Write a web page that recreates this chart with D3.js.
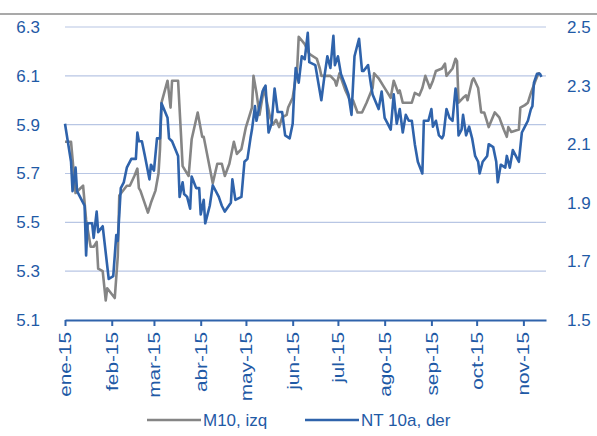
<!DOCTYPE html>
<html>
<meta charset="utf-8">
<style>
  body { margin: 0; background: #fff; }
  svg { display: block; font-family: "Liberation Sans", Arial, sans-serif; }
</style>
<body>
<div id="chart"></div>

<script src="https://cdn.jsdelivr.net/npm/d3@7"></script>
<script>

// M10 (left axis)
var m10Dates = ["01-01","01-05","01-07","01-08","01-13","01-15","01-18","01-20","01-22","01-23","01-26","01-28","01-29",
  "02-03","02-05","02-06","02-11","02-13","02-16","02-18","02-19","02-20","02-25","02-27",
  "03-02","03-04","03-05","03-06","03-10","03-12","03-13","03-17","03-19","03-20","03-24","03-26","03-30",
  "04-02","04-03","04-09","04-12","04-15","04-17","04-20","04-23","04-25","04-28",
  "05-01","05-05","05-06","05-08","05-10","05-13","05-17","05-19","05-21","05-23","05-25","05-28","05-29",
  "06-01","06-04","06-05","06-09","06-12","06-17","06-19","06-20","06-23","06-26","06-29","06-30",
  "07-02","07-06","07-09","07-11","07-14","07-17","07-20","07-24","07-25","07-28","07-31",
  "08-03","08-05","08-07","08-10","08-11","08-13","08-17","08-19","08-21","08-24","08-26","08-28","08-31",
  "09-02","09-04","09-08","09-10","09-11","09-15","09-17","09-18","09-19","09-22","09-24","09-25","09-28","09-29",
  "10-02","10-04","10-06","10-08","10-09","10-13","10-16","10-19","10-21","10-22","10-24","10-29","10-30",
  "11-02","11-04","11-06","11-09","11-11","11-12"];
var m10Values = [5.83,5.83,5.69,5.62,5.65,5.51,5.40,5.40,5.42,5.31,5.30,5.18,5.23,
  5.19,5.36,5.61,5.65,5.65,5.69,5.72,5.64,5.63,5.54,5.58,
  5.63,5.70,5.80,5.99,6.08,5.97,6.08,6.08,5.85,5.73,5.69,5.84,5.95,
  5.85,5.85,5.66,5.74,5.74,5.69,5.74,5.83,5.78,5.80,
  5.89,5.97,6.10,6.03,5.94,6.05,5.93,5.90,5.92,5.89,5.93,5.94,5.97,
  6.01,6.13,6.26,6.23,6.19,6.17,6.13,6.10,6.10,6.10,6.08,6.06,
  6.11,6.04,6.00,6.00,5.95,5.95,5.99,6.05,6.11,6.09,6.06,
  6.03,6.01,6.08,6.03,6.04,5.99,5.99,5.99,6.03,6.02,6.05,6.10,6.05,
  6.08,6.12,6.13,6.15,6.10,6.13,6.17,6.16,5.99,6.01,6.02,6.00,6.08,6.09,
  6.05,5.95,5.95,5.91,5.89,5.95,5.93,5.88,5.85,5.89,5.87,5.88,5.97,
  5.98,5.99,6.03,6.08,6.11,6.11];

// NT 10a (right axis)
var ntDates = ["01-01","01-05","01-06","01-08","01-09","01-12","01-14","01-15","01-16","01-19","01-20","01-22","01-23","01-26","01-28","01-30",
  "02-02","02-04","02-05","02-07","02-09","02-11","02-14","02-17","02-18","02-19","02-21","02-23","02-26","02-27",
  "03-01","03-03","03-05","03-06","03-10","03-11","03-13","03-17","03-18","03-20","03-21","03-23","03-25","03-26","03-29","03-31",
  "04-01","04-03","04-04","04-06","04-07","04-09","04-13","04-15","04-17","04-21","04-22","04-24","04-28","04-30",
  "05-02","05-04","05-05","05-07","05-08","05-12","05-14","05-16","05-18","05-20","05-22","05-23","05-25","05-27","05-30",
  "06-01","06-02","06-03","06-05","06-07","06-09","06-11","06-12","06-16","06-18","06-20","06-22","06-24","06-26","06-28","06-29",
  "07-01","07-03","07-06","07-08","07-10","07-12","07-15","07-17","07-18","07-21","07-23","07-24","07-28","07-30",
  "08-01","08-03","08-05","08-07","08-09","08-11","08-13","08-15","08-17","08-19","08-21","08-23","08-26","08-27","08-30",
  "09-01","09-02","09-04","09-06","09-08","09-09","09-11","09-13","09-15","09-17","09-18","09-19","09-21","09-22","09-24","09-26","09-28","09-30",
  "10-02","10-03","10-05","10-08","10-09","10-12","10-14","10-15","10-17","10-20","10-21","10-23","10-25","10-27","10-29","10-31",
  "11-02","11-04","11-06","11-07","11-08","11-10","11-12","11-13"];
var ntValues = [2.17,2.04,1.94,2.02,1.94,1.91,1.89,1.72,1.83,1.83,1.78,1.87,1.80,1.82,1.73,1.64,
  1.65,1.79,1.77,1.95,1.97,2.02,2.05,2.05,2.14,2.11,2.11,2.06,1.98,2.03,
  2.01,2.12,2.12,2.24,2.19,2.12,2.11,2.06,1.92,1.97,1.93,1.92,1.88,1.99,1.95,1.95,
  1.86,1.91,1.83,1.87,1.89,1.96,1.92,1.89,1.87,1.90,1.98,1.91,1.92,2.04,
  2.05,2.12,2.15,2.23,2.18,2.28,2.30,2.14,2.17,2.29,2.21,2.21,2.21,2.13,2.12,
  2.17,2.28,2.36,2.31,2.40,2.39,2.48,2.38,2.37,2.31,2.25,2.33,2.40,2.36,2.47,2.37,
  2.40,2.34,2.30,2.27,2.20,2.40,2.46,2.35,2.35,2.37,2.30,2.27,2.22,2.28,
  2.19,2.17,2.15,2.27,2.17,2.22,2.14,2.20,2.18,2.18,2.10,2.04,2.00,2.18,2.18,
  2.22,2.16,2.18,2.13,2.12,2.13,2.22,2.19,2.18,2.29,2.25,2.13,2.15,2.20,2.13,2.16,2.12,2.06,
  2.04,2.00,2.04,2.06,2.10,2.09,2.04,1.97,2.03,2.02,2.06,2.02,2.08,2.06,2.04,2.14,
  2.16,2.18,2.22,2.23,2.31,2.34,2.34,2.33];

var monthLabels = ["ene-15","feb-15","mar-15","abr-15","may-15","jun-15","jul-15","ago-15","sep-15","oct-15","nov-15"];
var leftTicks = [5.1, 5.3, 5.5, 5.7, 5.9, 6.1, 6.3];
var rightTicks = [1.5, 1.7, 1.9, 2.1, 2.3, 2.5];
var seriesNames = ["M10, izq", "NT 10a, der"];

var textColor = "#1f5aa6",
    blue = "#2f63ab",
    gray = "#858585",
    gridColor = "#b8c6e4";

var width = 597, height = 436;
var margin = {top: 27, right: 51, bottom: 116, left: 65};

var parse = d3.timeParse("%Y-%m-%d");
function toDate(s) { return parse("2015-" + s); }

var svg = d3.select("#chart")
  .append("svg")
    .attr("width", width)
    .attr("height", height);

// cut off rule at the top (title is outside the crop)
svg.append("line")
  .attr("x1", 0).attr("x2", width)
  .attr("y1", 14).attr("y2", 14)
  .attr("stroke", "#a9a9a9")
  .attr("stroke-width", 2);

var x = d3.scaleTime()
  .domain([toDate("01-01"), toDate("11-16")])
  .range([margin.left, width - margin.right]);

var yL = d3.scaleLinear()
  .domain([5.1, 6.3])
  .range([height - margin.bottom, margin.top]);

var yR = d3.scaleLinear()
  .domain([1.5, 2.5])
  .range([height - margin.bottom, margin.top]);

// gridlines (left axis)
svg.append("g")
  .selectAll("line")
  .data(leftTicks.slice(1))
  .enter()
  .append("line")
    .attr("x1", x.range()[0])
    .attr("x2", x.range()[1])
    .attr("y1", function(d) { return yL(d); })
    .attr("y2", function(d) { return yL(d); })
    .attr("stroke", gridColor)
    .attr("stroke-width", 1.2);

// left axis
var gl = svg.append("g")
  .attr("transform", "translate(" + margin.left + ",0)")
  .call(d3.axisLeft(yL).tickValues(leftTicks).tickFormat(d3.format(".1f")).tickSize(0).tickPadding(25));
gl.select(".domain").remove();

// right axis
var gr = svg.append("g")
  .attr("transform", "translate(" + (width - margin.right) + ",0)")
  .call(d3.axisRight(yR).tickValues(rightTicks).tickFormat(d3.format(".1f")).tickSize(0).tickPadding(21));
gr.select(".domain").remove();

svg.selectAll(".tick text")
  .attr("fill", textColor)
  .style("font-size", "17px");

// lines
var m10 = m10Dates.map(function(d, i) { return {date: toDate(d), value: m10Values[i]}; });
var nt = ntDates.map(function(d, i) { return {date: toDate(d), value: ntValues[i]}; });

svg.append("path")
  .datum(m10)
  .attr("fill", "none")
  .attr("stroke", gray)
  .attr("stroke-width", 2.6)
  .attr("stroke-linejoin", "round")
  .attr("d", d3.line().x(function(d) { return x(d.date); }).y(function(d) { return yL(d.value); }));

svg.append("path")
  .datum(nt)
  .attr("fill", "none")
  .attr("stroke", blue)
  .attr("stroke-width", 2.6)
  .attr("stroke-linejoin", "round")
  .attr("d", d3.line().x(function(d) { return x(d.date); }).y(function(d) { return yR(d.value); }));

// bottom axis (labels run upward and look stretched in the original)
var months = monthLabels.map(function(d, i) { return new Date(2015, i, 1); });
var gx = svg.append("g")
  .attr("transform", "translate(0," + (height - margin.bottom) + ")")
  .call(d3.axisBottom(x).tickValues(months).tickFormat(function(d, i) { return monthLabels[i]; }).tickSize(6).tickSizeOuter(0));
gx.select(".domain").attr("stroke", blue).attr("stroke-width", 2.2);
gx.selectAll(".tick line").attr("stroke", blue).attr("stroke-width", 2);
gx.selectAll(".tick text")
  .attr("fill", textColor)
  .style("font-size", "16px")
  .attr("text-anchor", "end")
  .attr("transform", "translate(0,12) rotate(-90) scale(1.3,1)")
  .attr("x", 0)
  .attr("y", 0)
  .attr("dy", "0.35em");

// legend
var legend = svg.append("g").attr("transform", "translate(0,420)");
var legendX = [147, 305];
var legendColors = [gray, blue];
seriesNames.forEach(function(name, i) {
  legend.append("line")
    .attr("x1", legendX[i]).attr("x2", legendX[i] + 54)
    .attr("y1", 0).attr("y2", 0)
    .attr("stroke", legendColors[i])
    .attr("stroke-width", 2.6);
  legend.append("text")
    .attr("x", legendX[i] + 56)
    .attr("y", 0)
    .attr("dy", "0.35em")
    .attr("fill", textColor)
    .style("font-size", "17px")
    .text(name);
});

</script>
</body>
</html>
